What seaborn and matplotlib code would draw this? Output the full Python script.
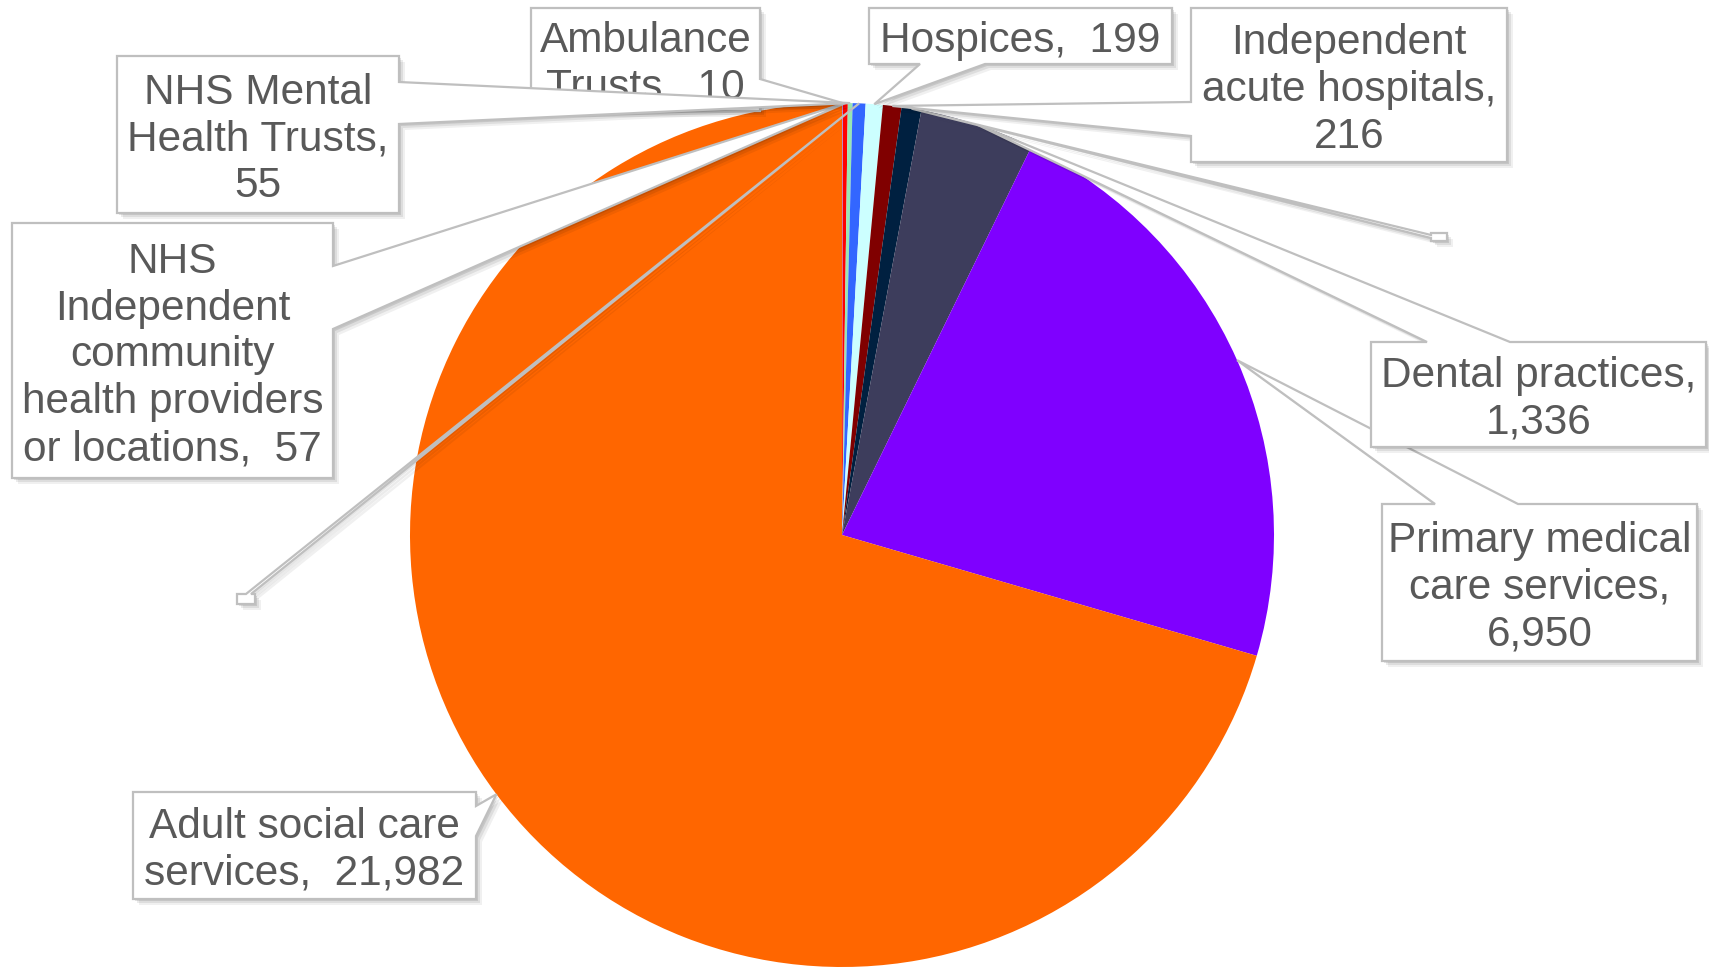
import matplotlib
matplotlib.use("Agg")
import matplotlib.pyplot as plt
import numpy as np
import seaborn as sns
from matplotlib.patches import Polygon

# Slice data, clockwise from 12 o'clock (two slices carry no label text)
categories = [
    "Ambulance Trusts",
    "NHS Independent community health providers or locations",
    "NHS Mental Health Trusts",
    "(unlabelled A)",
    "Hospices",
    "Independent acute hospitals",
    "(unlabelled B)",
    "Dental practices",
    "Primary medical care services",
    "Adult social care services",
]
values = [10, 57, 55, 150, 199, 216, 230, 1336, 6950, 21982]
label_texts = [
    "Ambulance\nTrusts,  10",
    "NHS\nIndependent\ncommunity\nhealth providers\nor locations,  57",
    "NHS Mental\nHealth Trusts,\n55",
    "",
    "Hospices,  199",
    "Independent\nacute hospitals,\n216",
    "",
    "Dental practices,\n1,336",
    "Primary medical\ncare services,\n6,950",
    "Adult social care\nservices,  21,982",
]
colors = ["#9999FF", "#FF0000", "#99E6B3", "#3366FF", "#CCFFFF",
          "#800000", "#002040", "#3D3D5C", "#7F00FF", "#FF6600"]

# Callout layout in pixels (y down): box, side the pointer leaves from, pointer base
layout = {
    0: ((531, 9, 760, 112), "right", (80, 104)),
    1: ((12, 224, 333, 479), "right", (267, 330)),
    2: ((117, 57, 399, 214), "right", (83, 125)),
    3: ((237, 595, 255, 605), "top", (246, 251)),
    4: ((869, 9, 1172, 65), "bottom", (920, 985)),
    5: ((1191, 9, 1507, 163), "left", (103, 137)),
    6: ((1431, 234, 1447, 242), "left", (236, 239)),
    7: ((1371, 343, 1706, 448), "top", (1427, 1510)),
    8: ((1382, 505, 1697, 662), "top", (1435, 1518)),
    9: ((133, 793, 476, 900), "right", (807, 837)),
}
draw_order = [9, 8, 7, 6, 5, 4, 3, 1, 0, 2]

W, H = 1709, 970
CX, CY, R = 842, 536, 432

sns.set_theme(style="white")
plt.rcParams["font.family"] = ["Liberation Sans", "DejaVu Sans"]

fig = plt.figure(figsize=(W / 100, H / 100), dpi=100)
ax = fig.add_axes([0, 0, 1, 1])

wedges, _ = ax.pie(values, colors=colors, startangle=-90, counterclock=True,
                   center=(CX, CY), radius=R, wedgeprops=dict(linewidth=0))
ax.set_xlim(0, W)
ax.set_ylim(H, 0)
ax.set_aspect("auto")
ax.axis("off")


def callout_points(box, side, base, tip):
    x0, y0, x1, y1 = box
    b0, b1 = base
    if side == "top":
        pts = [(x0, y0), (b0, y0), tip, (b1, y0), (x1, y0), (x1, y1), (x0, y1)]
    elif side == "right":
        pts = [(x0, y0), (x1, y0), (x1, b0), tip, (x1, b1), (x1, y1), (x0, y1)]
    elif side == "bottom":
        pts = [(x0, y0), (x1, y0), (x1, y1), (b1, y1), tip, (b0, y1), (x0, y1)]
    else:
        pts = [(x0, y0), (x1, y0), (x1, y1), (x0, y1), (x0, b1), tip, (x0, b0)]
    return np.array(pts, dtype=float)


for z, i in enumerate(draw_order):
    box, side, base = layout[i]
    w = wedges[i]
    mid = np.deg2rad((w.theta1 + w.theta2) / 2)
    tip = (CX + R * np.cos(mid), CY + R * np.sin(mid))
    pts = callout_points(box, side, base, tip)
    zz = 5 + z * 3
    # soft shadow
    for k, a in [(6, 0.06), (4, 0.08), (2, 0.10)]:
        ax.add_patch(Polygon(pts + k, closed=True, fc="black", ec="none",
                             alpha=a, zorder=zz))
    ax.add_patch(Polygon(pts, closed=True, fc="white", ec="#BFBFBF",
                         lw=1.6, zorder=zz + 1, joinstyle="miter"))
    if label_texts[i]:
        x0, y0, x1, y1 = box
        ax.text((x0 + x1) / 2, (y0 + y1) / 2 + 4, label_texts[i], ha="center",
                va="center", fontsize=30.5, color="#595959", linespacing=1.22,
                zorder=zz + 2)

fig.savefig("out.png", dpi=100)
